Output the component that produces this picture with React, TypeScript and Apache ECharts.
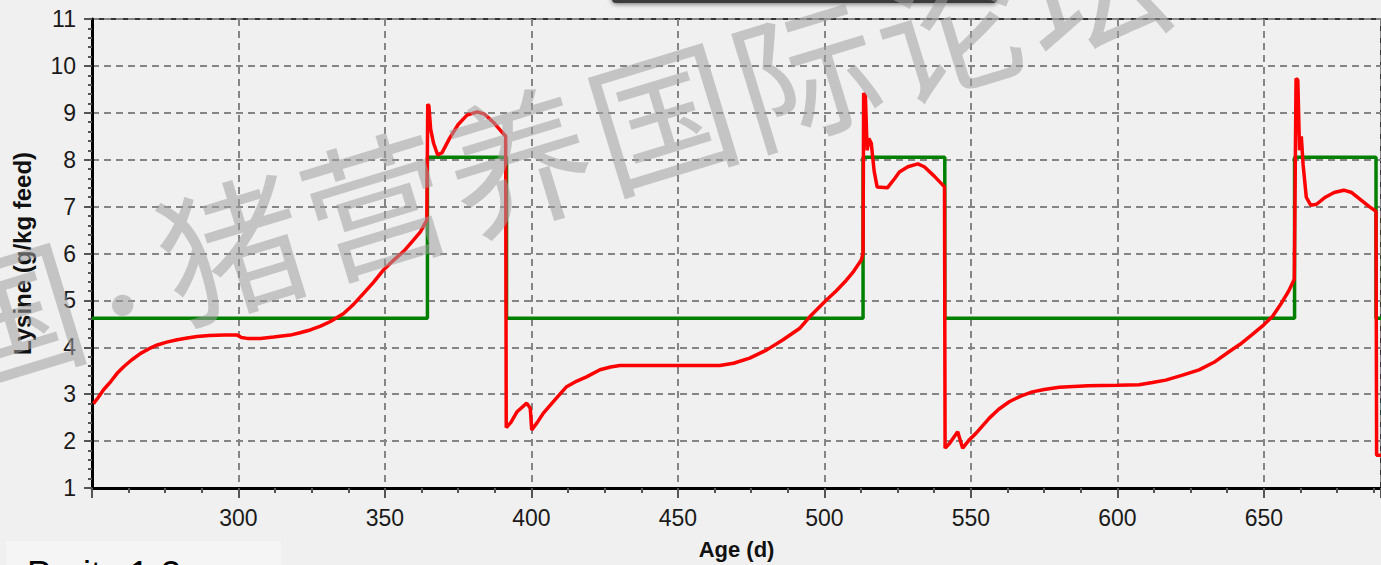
import React, { useEffect, useRef } from "react";
import * as echarts from "echarts";

// Red curve: lysine requirement (age in days, g/kg feed)
const lysineAge = [
  250.5, 252, 254, 256.4, 258.5, 260.9, 263.5, 266.6, 269.5, 272.3, 275.5, 279.1, 282.5, 285.9, 290, 295, 299.6,
  301, 303, 307.5, 312, 317.7, 321, 324.5, 328, 331.4, 335.9, 339.5, 342.7, 346, 349.5, 353, 356.3, 359.5, 362.1,
  364.3, 364.6, 365.0, 365.6, 366.6, 368.0, 369.5, 372, 375, 378, 381.5, 384, 387, 389.5, 391.2,
  391.4, 393, 395, 398.4, 399.6, 400.1, 402, 404, 408, 412, 415.5, 418.8, 423.4, 427, 430.2, 445, 464.3, 469,
  474.5, 480.2, 485.9, 491.5, 495, 500.7, 504, 507.5, 510, 512.6, 513.2, 513.4, 514.0, 514.6, 515.2, 516.0,
  517.0, 518, 521.5, 524, 525.6, 528.5, 531.9, 534.1, 537.5, 541.0,
  541.2, 542.7, 545.5, 547.2, 549.5, 551.8, 556.3, 559.5, 563.1, 567, 571, 575, 580.2, 590, 600, 607.4, 612,
  616.5, 622, 627.9, 633, 638, 642, 646, 650, 653, 656, 658.5, 660.4, 661.0, 661.6, 662.2, 662.8, 663.4, 664.5,
  666, 668, 671, 674, 677.3, 680, 683, 686, 688.3, 688.5, 690,
];
const lysineValue = [
  2.8, 2.92, 3.1, 3.27, 3.44, 3.59, 3.73, 3.87, 3.97, 4.05, 4.11, 4.16, 4.2, 4.23, 4.25, 4.26, 4.26,
  4.21, 4.19, 4.19, 4.22, 4.26, 4.31, 4.37, 4.45, 4.55, 4.72, 4.93, 5.15, 5.38, 5.65, 5.86, 6.04, 6.27, 6.46,
  6.71, 9.18, 9.15, 8.65, 8.35, 8.1, 8.15, 8.45, 8.75, 8.95, 9.02, 8.97, 8.8, 8.62, 8.5,
  2.29, 2.4, 2.62, 2.81, 2.7, 2.24, 2.4, 2.59, 2.88, 3.16, 3.28, 3.37, 3.52, 3.58, 3.61, 3.61, 3.61, 3.66,
  3.77, 3.94, 4.16, 4.4, 4.65, 5.01, 5.2, 5.43, 5.62, 5.86, 6.0, 9.42, 9.35, 8.2, 8.45, 8.35,
  7.75, 7.42, 7.4, 7.6, 7.74, 7.85, 7.91, 7.85, 7.65, 7.42,
  1.85, 1.95, 2.2, 1.85, 2.03, 2.17, 2.49, 2.68, 2.84, 2.96, 3.05, 3.1, 3.15, 3.18, 3.19, 3.2, 3.25,
  3.3, 3.4, 3.52, 3.68, 3.9, 4.07, 4.27, 4.48, 4.66, 4.94, 5.2, 5.45, 9.73, 9.7, 8.2, 8.5, 7.9, 7.2,
  7.03, 7.05, 7.2, 7.3, 7.35, 7.3, 7.15, 7.0, 6.9, 1.7, 1.7,
];

// Green steps: feed lysine level
const feedAge = [250, 364.5, 364.5, 391.5, 391.5, 513.2, 513.2, 541.1, 541.1, 660.5, 660.5, 688.3, 688.3, 690];
const feedValue = [4.62, 4.62, 8.05, 8.05, 4.62, 4.62, 8.05, 8.05, 4.62, 4.62, 8.05, 8.05, 4.62, 4.62];

const watermarkChars = ["国", "猪", "营", "养", "国", "际", "论", "坛"];
const watermarkSteps = [-1.55, 0, 1, 2, 3, 4, 5, 6];

const FONT = "'Liberation Sans', Arial, sans-serif";

export default function App() {
  const ref = useRef<HTMLDivElement>(null);
  useEffect(() => {
    if (!ref.current) return;
    const chart = echarts.init(ref.current, undefined, { renderer: "svg" });
    const ang = (17 * Math.PI) / 180;
    const step = 150;
    const base = [230, 242];
    const wmFill = "rgba(160,160,160,0.55)";
    const wm: any[] = watermarkChars.map((c, i) => ({
      type: "text",
      x: base[0] + Math.cos(ang) * step * watermarkSteps[i],
      y: base[1] - Math.sin(ang) * step * watermarkSteps[i],
      rotation: ang,
      z: 100,
      style: {
        text: c,
        fontSize: 145,
        fontFamily: "'Noto Sans CJK SC'",
        fill: wmFill,
        align: "center",
        verticalAlign: "middle",
      },
    }));
    wm.push({
      type: "text",
      x: 121,
      y: 300,
      rotation: ang,
      z: 100,
      style: {
        text: "·",
        fontSize: 100,
        fontFamily: "'Noto Sans CJK SC'",
        fill: wmFill,
        align: "center",
        verticalAlign: "middle",
      },
    });
    chart.setOption({
      animation: false,
      backgroundColor: "#f0f0f0",
      grid: {
        left: 92,
        right: -2,
        top: 19,
        bottom: 77,
        show: true,
        borderColor: "#333",
        borderWidth: 2,
        backgroundColor: "transparent",
      },
      xAxis: {
        type: "value",
        min: 250,
        max: 690,
        interval: 50,
        name: "Age (d)",
        nameLocation: "middle",
        nameGap: 50,
        nameTextStyle: { fontFamily: FONT, fontSize: 22, fontWeight: "bold", color: "#111" },
        axisLine: { show: true, onZero: false, lineStyle: { color: "#000", width: 3 } },
        axisTick: { show: true, length: 10, lineStyle: { color: "#555", width: 2 } },
        minorTick: { show: true, splitNumber: 4, length: 5, lineStyle: { color: "#555", width: 2 } },
        axisLabel: {
          fontFamily: FONT,
          fontSize: 23,
          color: "#1a1a1a",
          margin: 18,
          showMinLabel: false,
          showMaxLabel: false,
        },
        splitLine: { show: true, lineStyle: { color: "#858585", width: 2, type: [7, 5] } },
      },
      yAxis: {
        type: "value",
        min: 1,
        max: 11,
        interval: 1,
        name: "Lysine (g/kg feed)",
        nameLocation: "middle",
        nameRotate: 90,
        nameGap: 58,
        nameTextStyle: { fontFamily: FONT, fontSize: 24, fontWeight: "bold", color: "#111" },
        axisLine: { show: true, onZero: false, lineStyle: { color: "#000", width: 3 } },
        axisTick: { show: true, length: 8, lineStyle: { color: "#555", width: 2 } },
        minorTick: { show: true, splitNumber: 5, length: 4, lineStyle: { color: "#555", width: 2 } },
        axisLabel: { fontFamily: FONT, fontSize: 23, color: "#1a1a1a", margin: 16 },
        splitLine: { show: true, lineStyle: { color: "#858585", width: 2, type: [7, 5] } },
      },
      series: [
        {
          type: "line",
          data: feedAge.map((a, i) => [a, feedValue[i]]),
          showSymbol: false,
          lineStyle: { color: "#008000", width: 3.5 },
          z: 3,
        },
        {
          type: "line",
          data: lysineAge.map((a, i) => [a, lysineValue[i]]),
          showSymbol: false,
          lineStyle: { color: "#ff0000", width: 3.5 },
          z: 4,
        },
      ],
      graphic: [
        {
          type: "rect",
          shape: { x: 612, y: -10, width: 385, height: 13, r: 4 },
          style: { fill: "#3a3a3a", shadowBlur: 5, shadowColor: "rgba(0,0,0,0.55)", shadowOffsetY: 1 },
          z: 90,
        },
        {
          type: "rect",
          shape: { x: 6, y: 541, width: 275, height: 30 },
          style: { fill: "#f5f5f5" },
          z: 1,
        },
        {
          type: "text",
          x: 27,
          y: 574,
          z: 2,
          style: {
            text: "Parity 1-3",
            fontSize: 36,
            fontFamily: FONT,
            fill: "#000",
            align: "left",
            verticalAlign: "middle",
          },
        },
        ...wm,
      ],
    });
    return () => chart.dispose();
  }, []);
  return (
    <div
      ref={ref}
      style={{ position: "fixed", left: 0, top: 0, width: 1381, height: 565, background: "#f0f0f0" }}
    />
  );
}
